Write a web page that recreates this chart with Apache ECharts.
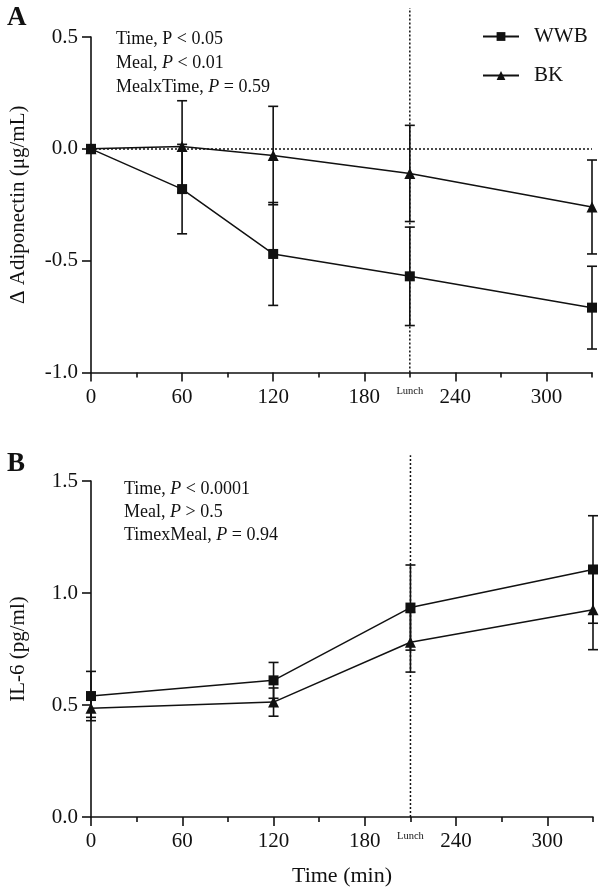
<!DOCTYPE html>
<html>
<head>
<meta charset="utf-8">
<script src="https://cdn.jsdelivr.net/npm/echarts@6/dist/echarts.min.js"></script>
<style>
html,body{margin:0;padding:0;background:#fff;}
#c{width:600px;height:890px;}
</style>
</head>
<body>
<div id="c"></div>
<script>
// ---- Data ----
const timeA = [0, 60, 120, 210, 330];
const wwbA = [0, -0.18, -0.47, -0.57, -0.71];
const wwbAse = [0, 0.20, 0.23, 0.22, 0.185];
const bkA = [0, 0.01, -0.03, -0.11, -0.26];
const bkAse = [0, 0.205, 0.22, 0.215, 0.21];

const timeB = [0, 120, 210, 330];
const wwbB = [0.54, 0.61, 0.935, 1.105];
const wwbBse = [0.11, 0.08, 0.19, 0.24];
const bkB = [0.485, 0.513, 0.78, 0.925];
const bkBse = [0.04, 0.063, 0.133, 0.178];

const majorTicks = [0, 60, 120, 180, 240, 300];
const minorTicks = [30, 90, 150, 210, 270, 330];
const lunchTime = 210;
const lunchSpanA = [-1, 0.63];
const lunchSpanB = [0, 1.615];
const seriesNames = ['WWB', 'BK'];

const FONT = '"Liberation Serif", "DejaVu Serif", serif';

const chart = echarts.init(document.getElementById('c'), null, {renderer: 'canvas'});

function pairs(t, v) { return t.map((x, i) => [x, v[i]]); }
function errs(t, v, se) {
  return t.map((x, i) => [x, v[i] - se[i], v[i] + se[i], se[i]]);
}

function errRender(params, api) {
  const se = api.value(3);
  if (!se) return null;
  const x = api.value(0);
  const pLo = api.coord([x, api.value(1)]);
  const pHi = api.coord([x, api.value(2)]);
  const w = 5;
  const st = {stroke: '#111', lineWidth: 1.6};
  return {
    type: 'group',
    children: [
      {type: 'line', shape: {x1: pLo[0], y1: pLo[1], x2: pHi[0], y2: pHi[1]}, style: st},
      {type: 'line', shape: {x1: pLo[0] - w, y1: pLo[1], x2: pLo[0] + w, y2: pLo[1]}, style: st},
      {type: 'line', shape: {x1: pHi[0] - w, y1: pHi[1], x2: pHi[0] + w, y2: pHi[1]}, style: st}
    ]
  };
}

function lunchRender(params, api) {
  const x = api.value(0);
  const p0 = api.coord([x, api.value(1)]);
  const p1 = api.coord([x, api.value(2)]);
  return {
    type: 'group',
    children: [
      {type: 'line', shape: {x1: p0[0], y1: p0[1], x2: p1[0], y2: p1[1]},
        style: {stroke: '#111', lineWidth: 1.5, lineDash: [2, 2]}},
      {type: 'text', style: {text: 'Lunch', x: p0[0], y: p0[1] + 19, align: 'center',
        verticalAlign: 'middle', fontSize: 10.5, fontFamily: FONT, fill: '#111'}}
    ]
  };
}

function xMain(gridIndex, withName) {
  return {
    type: 'value', gridIndex: gridIndex, min: 0, max: 330,
    axisLine: {show: true, onZero: false, lineStyle: {color: '#111', width: 1.6}},
    axisTick: {show: true, length: 9, customValues: majorTicks, lineStyle: {color: '#111', width: 1.6}},
    axisLabel: {show: true, customValues: majorTicks, margin: 14, color: '#111', fontSize: 21, fontFamily: FONT},
    splitLine: {show: false},
    name: withName ? 'Time (min)' : '',
    nameLocation: 'middle', nameGap: 48,
    nameTextStyle: {color: '#111', fontSize: 22, fontFamily: FONT}
  };
}
function xMinor(gridIndex) {
  return {
    type: 'value', gridIndex: gridIndex, min: 0, max: 330, position: 'bottom',
    axisLine: {show: false, onZero: false},
    axisTick: {show: true, length: 5, customValues: minorTicks, lineStyle: {color: '#111', width: 1.6}},
    axisLabel: {show: false},
    splitLine: {show: false}
  };
}
function yAxis(gridIndex, min, max, name) {
  return {
    type: 'value', gridIndex: gridIndex, min: min, max: max, interval: 0.5,
    axisLine: {show: true, lineStyle: {color: '#111', width: 1.6}},
    axisTick: {show: true, length: 9, lineStyle: {color: '#111', width: 1.6}},
    axisLabel: {margin: 13, color: '#111', fontSize: 21, fontFamily: FONT,
      formatter: v => v.toFixed(1)},
    splitLine: {show: false},
    name: name, nameLocation: 'middle', nameGap: 62,
    nameTextStyle: {color: '#111', fontSize: 21, fontFamily: FONT}
  };
}

function lineSeries(name, xi, yi, data, symbol, size, extra) {
  return Object.assign({
    type: 'line', name: name, xAxisIndex: xi, yAxisIndex: yi, data: data,
    symbol: symbol, symbolSize: size, showAllSymbol: true,
    lineStyle: {color: '#111', width: 1.5},
    itemStyle: {color: '#111', borderWidth: 0},
    z: 5, clip: false, animation: false
  }, extra || {});
}

const option = {
  backgroundColor: '#fff',
  animation: false,
  textStyle: {fontFamily: FONT},
  legend: {
    data: seriesNames, orient: 'vertical', left: 477, top: 21,
    itemWidth: 36, itemHeight: 11, itemGap: 18,
    textStyle: {color: '#111', fontSize: 21, fontFamily: FONT, padding: [0, 0, 0, 10]},
    selectedMode: false
  },
  grid: [
    {left: 90, right: 8, top: 37, height: 335.5},
    {left: 91, right: 7, top: 481, height: 336}
  ],
  xAxis: [xMain(0, false), xMain(1, true), xMinor(0), xMinor(1)],
  yAxis: [
    yAxis(0, -1, 0.5, 'Δ Adiponectin (μg/mL)'),
    yAxis(1, 0, 1.5, 'IL-6 (pg/ml)')
  ],
  graphic: [
    {type: 'text', left: 7, top: 5, style: {text: 'A', font: 'bold 27px ' + FONT, fill: '#111'}},
    {type: 'text', left: 7, top: 451, style: {text: 'B', font: 'bold 27px ' + FONT, fill: '#111'}},
    {type: 'text', left: 116, top: 27, style: {
      text: 'Time, P < 0.05\nMeal, {i|P} < 0.01\nMealxTime, {i|P} = 0.59',
      fontSize: 18, fontFamily: FONT, fill: '#111', lineHeight: 24,
      rich: {i: {fontStyle: 'italic', fontSize: 18, fontFamily: FONT, fill: '#111', lineHeight: 24}}
    }},
    {type: 'text', left: 124, top: 478, style: {
      text: 'Time, {i|P} < 0.0001\nMeal, {i|P} > 0.5\nTimexMeal, {i|P} = 0.94',
      fontSize: 18, fontFamily: FONT, fill: '#111', lineHeight: 23,
      rich: {i: {fontStyle: 'italic', fontSize: 18, fontFamily: FONT, fill: '#111', lineHeight: 23}}
    }}
  ],
  series: [
    // lunch markers
    {type: 'custom', name: 'lunchA', xAxisIndex: 0, yAxisIndex: 0, renderItem: lunchRender,
      data: [[lunchTime, lunchSpanA[0], lunchSpanA[1]]], encode: {x: 0, y: [1, 2]}, z: 2, silent: true, clip: false},
    {type: 'custom', name: 'lunchB', xAxisIndex: 1, yAxisIndex: 1, renderItem: lunchRender,
      data: [[lunchTime, lunchSpanB[0], lunchSpanB[1]]], encode: {x: 0, y: [1, 2]}, z: 2, silent: true, clip: false},
    // error bars panel A
    {type: 'custom', name: 'errWWB_A', xAxisIndex: 0, yAxisIndex: 0, renderItem: errRender,
      data: errs(timeA, wwbA, wwbAse), encode: {x: 0, y: [1, 2]}, z: 3, silent: true, clip: false},
    {type: 'custom', name: 'errBK_A', xAxisIndex: 0, yAxisIndex: 0, renderItem: errRender,
      data: errs(timeA, bkA, bkAse), encode: {x: 0, y: [1, 2]}, z: 3, silent: true, clip: false},
    // lines panel A
    lineSeries('WWB', 0, 0, pairs(timeA, wwbA), 'rect', 10, {
      markLine: {
        silent: true, symbol: ['none', 'none'],
        lineStyle: {color: '#111', type: [2, 2], width: 1.5},
        label: {show: false},
        data: [{yAxis: 0}]
      }
    }),
    lineSeries('BK', 0, 0, pairs(timeA, bkA), 'triangle', 11),
    // error bars panel B
    {type: 'custom', name: 'errWWB_B', xAxisIndex: 1, yAxisIndex: 1, renderItem: errRender,
      data: errs(timeB, wwbB, wwbBse), encode: {x: 0, y: [1, 2]}, z: 3, silent: true, clip: false},
    {type: 'custom', name: 'errBK_B', xAxisIndex: 1, yAxisIndex: 1, renderItem: errRender,
      data: errs(timeB, bkB, bkBse), encode: {x: 0, y: [1, 2]}, z: 3, silent: true, clip: false},
    lineSeries('WWB', 1, 1, pairs(timeB, wwbB), 'rect', 10),
    lineSeries('BK', 1, 1, pairs(timeB, bkB), 'triangle', 11)
  ]
};
chart.setOption(option);
</script>
</body>
</html>
